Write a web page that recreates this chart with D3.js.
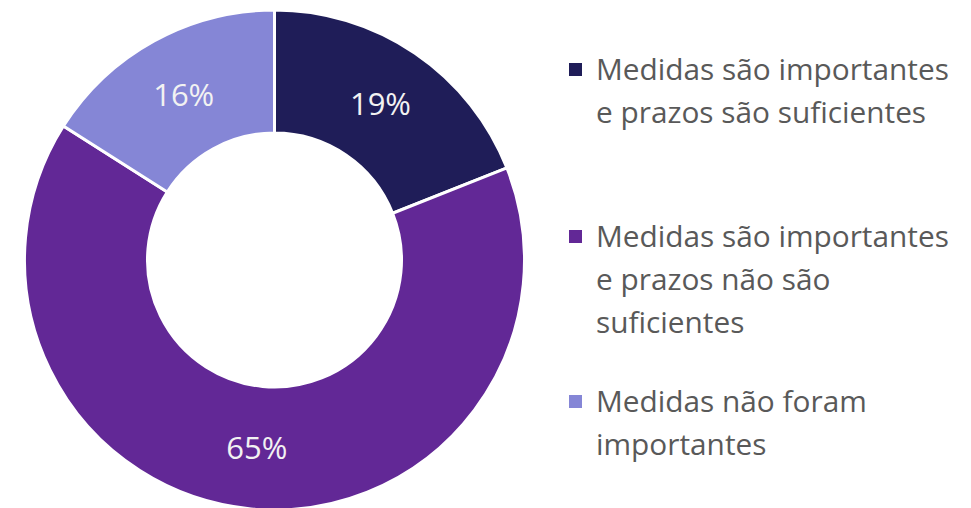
<!DOCTYPE html>
<html><head><meta charset="utf-8">
<script src="https://cdn.jsdelivr.net/npm/d3@7"></script>
<style>html,body{margin:0;padding:0;background:#fff;overflow:hidden}</style>
</head><body>
<svg id="c" width="971" height="508"></svg>
<script>
const categories = [
  ["Medidas são importantes", "e prazos são suficientes"],
  ["Medidas são importantes", "e prazos não são", "suficientes"],
  ["Medidas não foram", "importantes"]
];
const values = [19, 65, 16];
const labels = ["19%", "65%", "16%"];
const colors = ["#1f1d58", "#622896", "#8586d6"];

const svg = d3.select("#c");
const font = "'Open Sans', 'Noto Sans', sans-serif";
const cx = 274.5, cy = 260, R = 250, r = 127;

const pie = d3.pie().sort(null).value(d => d)(values);
const arc = d3.arc().innerRadius(r).outerRadius(R);
const g = svg.append("g").attr("transform", `translate(${cx},${cy})`);
g.selectAll("path").data(pie).join("path")
  .attr("d", arc).attr("fill", (d,i) => colors[i])
  .attr("stroke", "#fff").attr("stroke-width", 3);

const lab = d3.arc().innerRadius((r+R)/2).outerRadius((r+R)/2);
g.selectAll("text.lbl").data(pie).join("text").attr("class","lbl")
  .attr("x", d => lab.centroid(d)[0])
  .attr("y", d => lab.centroid(d)[1] + 11)
  .attr("text-anchor", "middle")
  .attr("font-family", font).attr("font-size", 31)
  .attr("fill", "#f2f2f2")
  .text((d,i) => labels[i]);

const leg = svg.append("g");
const starts = [80, 247, 412];
const lh = 43;
categories.forEach((lines, i) => {
  leg.append("rect").attr("x", 569).attr("y", starts[i] - 17).attr("width", 13).attr("height", 13)
    .attr("fill", colors[i]);
  lines.forEach((t, j) => {
    leg.append("text").attr("x", 596).attr("y", starts[i] + j*lh)
      .attr("font-family", font).attr("font-size", 29.8)
      .attr("fill", "#595959").text(t);
  });
});
</script>
</body></html>
